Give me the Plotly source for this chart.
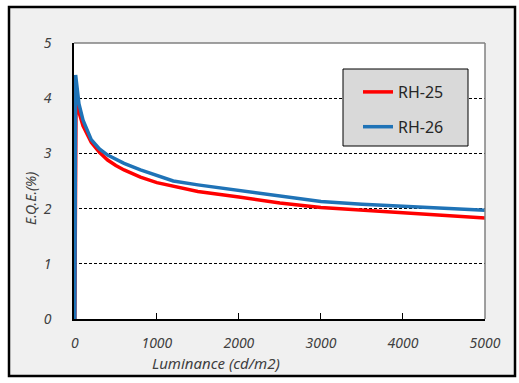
import plotly.graph_objects as go

# Data (Luminance cd/m2 vs E.Q.E. %)
lum_rh25 = [0, 15, 50, 100, 200, 300, 400, 500, 600, 800, 1000, 1200, 1500, 2000, 2500, 3000, 3500, 4000, 4500, 5000]
eqe_rh25 = [0, 4.0, 3.75, 3.5, 3.2, 3.02, 2.88, 2.78, 2.7, 2.57, 2.47, 2.4, 2.31, 2.21, 2.1, 2.02, 1.97, 1.92, 1.88, 1.83]

lum_rh26 = [0, 10, 50, 100, 200, 300, 400, 500, 600, 800, 1000, 1200, 1500, 2000, 2500, 3000, 3500, 4000, 4500, 5000]
eqe_rh26 = [0, 4.42, 3.9, 3.6, 3.25, 3.08, 2.97, 2.9, 2.82, 2.7, 2.6, 2.5, 2.43, 2.33, 2.23, 2.13, 2.08, 2.04, 2.0, 1.97]

x_ticks = [0, 1000, 2000, 3000, 4000, 5000]
y_ticks = [0, 1, 2, 3, 4, 5]

W, H = 519, 383
L, R, T, B = 74, 485, 43, 319
pw, ph = R - L, B - T

def px2paper_x(px):
    return (px - L) / pw

def px2paper_y(py):
    return (B - py) / ph

fig = go.Figure()
fig.add_trace(go.Scatter(x=lum_rh25, y=eqe_rh25, mode="lines", name="RH-25",
                         line=dict(color="#ff0000", width=3.5), legendgroup="a"))
fig.add_trace(go.Scatter(x=lum_rh26, y=eqe_rh26, mode="lines", name="RH-26",
                         line=dict(color="#1f73b7", width=3.5), legendgroup="b"))

tickfont = dict(family="Noto Sans", size=14, color="#404040", style="italic")

shapes = [
    # outer frame with light gray fill
    dict(type="rect", xref="paper", yref="paper",
         x0=px2paper_x(9), x1=px2paper_x(515), y0=px2paper_y(376), y1=px2paper_y(7),
         line=dict(color="black", width=2.5), fillcolor="#f0f0f0", layer="below"),
    # white plot area
    dict(type="rect", xref="paper", yref="paper", x0=0, x1=1, y0=0, y1=1,
         line=dict(width=0), fillcolor="white", layer="below"),
    # top and right borders (gray)
    dict(type="line", xref="paper", yref="paper", x0=0, x1=1, y0=1, y1=1,
         line=dict(color="#808080", width=1.5)),
    dict(type="line", xref="paper", yref="paper", x0=1, x1=1, y0=0, y1=1,
         line=dict(color="#808080", width=1.5)),
    # legend box
    dict(type="rect", xref="paper", yref="paper",
         x0=px2paper_x(343), x1=px2paper_x(468), y0=px2paper_y(146), y1=px2paper_y(69),
         line=dict(color="black", width=1), fillcolor="#d9d9d9", layer="above"),
]

fig.update_layout(
    width=W, height=H,
    margin=dict(l=L, r=W - R, t=T, b=H - B, pad=0),
    paper_bgcolor="white",
    plot_bgcolor="rgba(0,0,0,0)",
    showlegend=True,
    shapes=shapes,
    legend=dict(
        x=px2paper_x(358), y=px2paper_y(75), xanchor="left", yanchor="top",
        bgcolor="rgba(0,0,0,0)", borderwidth=0,
        font=dict(family="Noto Sans", size=16, color="#262626"),
        tracegroupgap=11,
    ),
    xaxis=dict(
        range=[-10, 5000], tickvals=x_ticks, ticktext=[str(v) for v in x_ticks],
        showgrid=False, zeroline=False,
        showline=True, linecolor="black", linewidth=1.5,
        ticks="inside", ticklen=6, tickcolor="black", tickwidth=1,
        tickfont=tickfont, ticklabelstandoff=10,
    ),
    yaxis=dict(
        range=[0, 5], tickvals=y_ticks, ticktext=[str(v) for v in y_ticks],
        showgrid=True, gridcolor="black", gridwidth=1, griddash="3px,2px",
        zeroline=False,
        showline=True, linecolor="black", linewidth=1.5,
        ticks="", tickfont=tickfont, ticklabelstandoff=18,
    ),
    annotations=[
        dict(text="Luminance (cd/m2)", xref="paper", yref="paper",
             x=px2paper_x(216), y=px2paper_y(363), xanchor="center", yanchor="middle",
             showarrow=False, font=dict(family="Noto Sans", size=15, color="#404040", style="italic")),
        dict(text="E.Q.E.(%)", xref="paper", yref="paper", textangle=-90,
             x=px2paper_x(30), y=px2paper_y(199), xanchor="center", yanchor="middle",
             showarrow=False, font=dict(family="Noto Sans", size=14, color="#404040", style="italic")),
    ],
)

fig.write_html("out.html", config={"displayModeBar": False},
               post_script="document.body.style.margin='0';document.body.style.overflow='hidden';")
